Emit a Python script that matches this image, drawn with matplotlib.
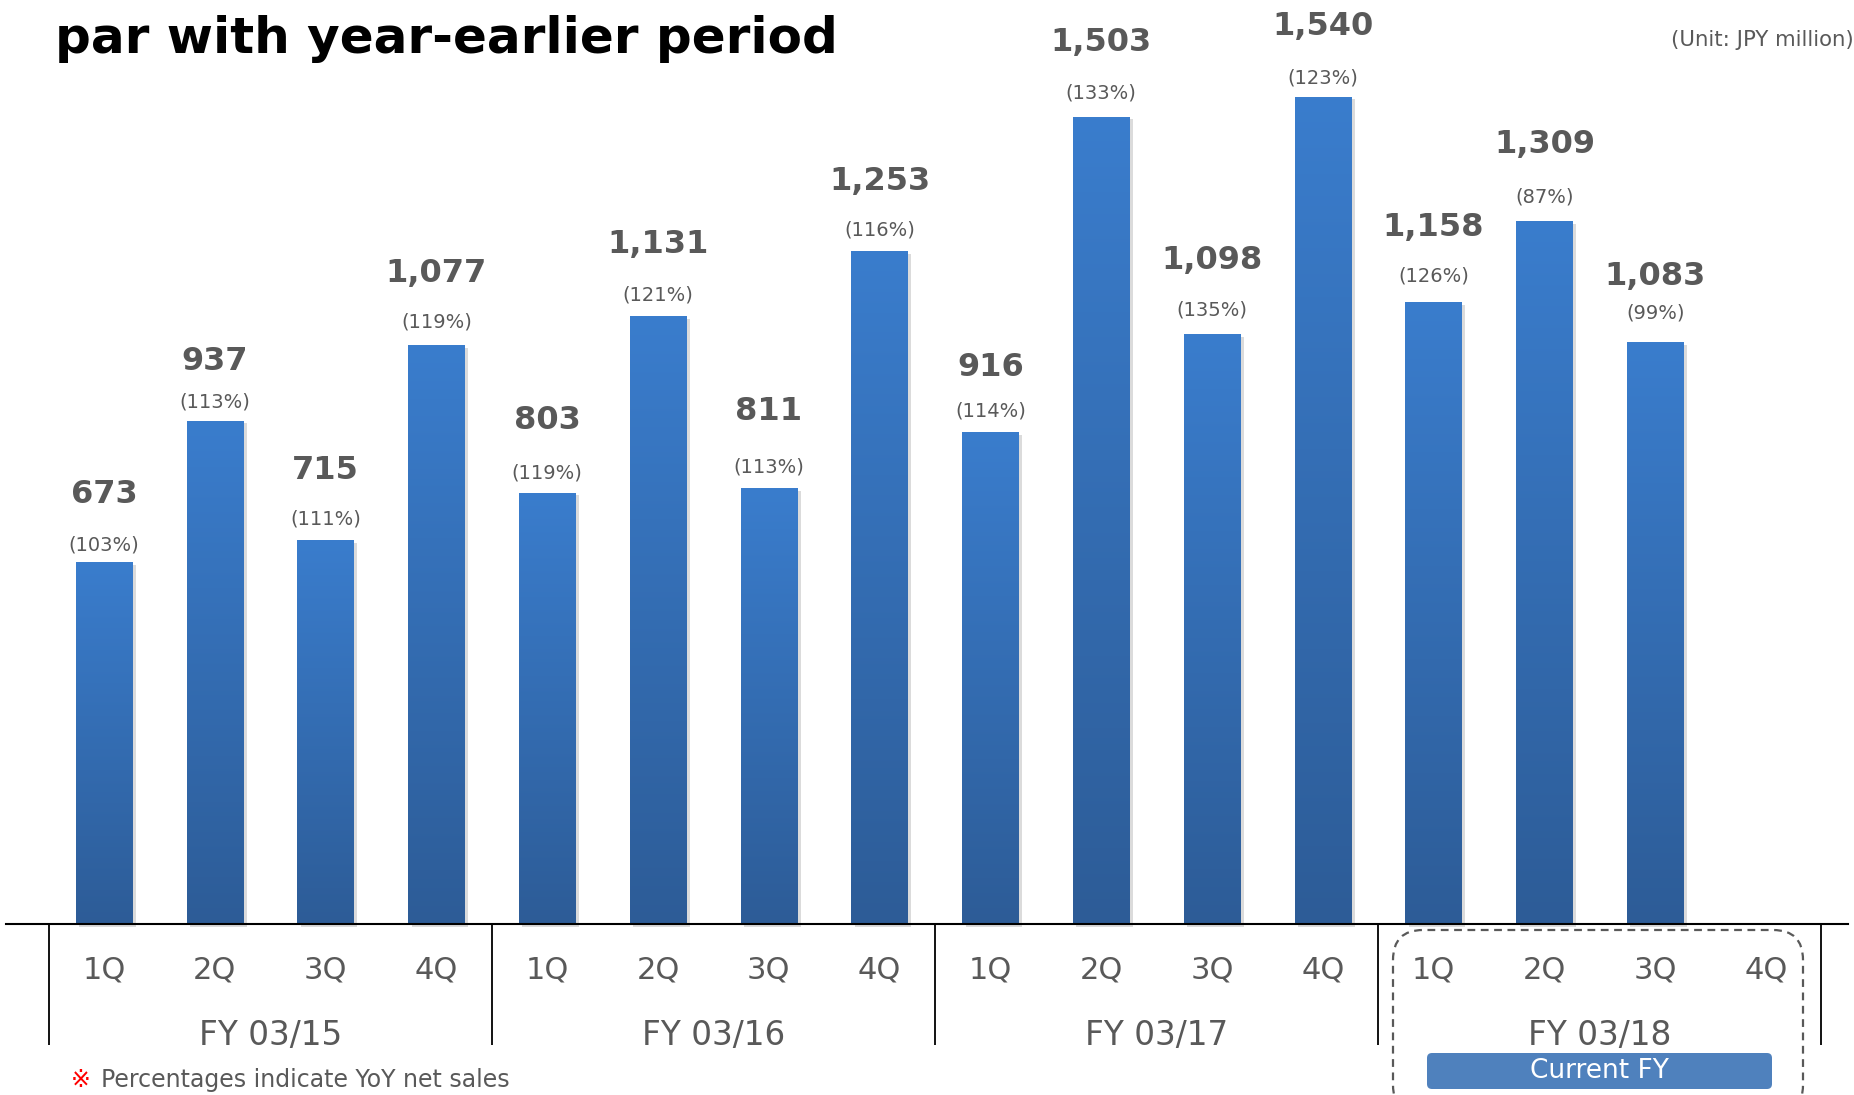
import numpy as np
import matplotlib
matplotlib.use("Agg")
import matplotlib.pyplot as plt
from matplotlib.patches import FancyBboxPatch
from matplotlib.transforms import IdentityTransform
from matplotlib.colors import LinearSegmentedColormap
import matplotlib.patheffects as pe

# quarterly net sales (JPY million) and YoY %
fiscal_years = ["FY 03/15", "FY 03/16", "FY 03/17", "FY 03/18"]
quarters = ["1Q", "2Q", "3Q", "4Q"]
net_sales = [673, 937, 715, 1077, 803, 1131, 811, 1253, 916, 1503, 1098, 1540, 1158, 1309, 1083]
yoy_pct = [103, 113, 111, 119, 119, 121, 113, 116, 114, 133, 135, 123, 126, 87, 99]

# label heights above each bar (px), placed by hand in the original slide
value_off_px = [68, 59, 69, 72, 72, 72, 77, 69, 64, 74, 74, 70, 74, 76, 66]
pct_off_px = [17.5, 19, 21, 23.5, 20, 21, 21, 21, 21, 23.5, 24.5, 19, 26, 23.5, 29]

W, H = 1854, 1095
PX = 0.72  # points per pixel at dpi 100
GRAY = "#595959"

fig = plt.figure(figsize=(W / 100, H / 100), dpi=100)
ax = fig.add_axes([0, 0, 1, 1])
ax.axis("off")

x = np.arange(len(net_sales))
shadow = [pe.SimplePatchShadow(offset=(2.5, -2), shadow_rgbFace="#999999", alpha=0.35),
          pe.Normal()]
bars = ax.bar(x, net_sales, width=0.51, color="#3572BC", zorder=2, path_effects=shadow)

# vertical gradient on each bar
grad = np.linspace(0, 1, 256).reshape(-1, 1)
cmap = LinearSegmentedColormap.from_list("bar", ["#2D5C97", "#3A7DCD"])
for b in bars:
    x0, w, h = b.get_x(), b.get_width(), b.get_height()
    im = ax.imshow(grad, cmap=cmap, origin="lower", aspect="auto",
                   extent=(x0, x0 + w, 0, h), zorder=3)
    im.set_clip_path(b)

ax.set_xlim(-0.9386, 15.794)
ax.set_ylim(-318.3, 1720)

for xi, v, p, vo, po in zip(x, net_sales, yoy_pct, value_off_px, pct_off_px):
    ax.annotate(f"{v:,}", (xi, v), xytext=(0, vo * PX), textcoords="offset points",
                ha="center", va="center", fontsize=23, fontweight="bold", color=GRAY)
    ax.annotate(f"({p}%)", (xi, v), xytext=(0, po * PX), textcoords="offset points",
                ha="center", va="center", fontsize=14, color=GRAY)

# baseline and group separators
ax.axhline(0, xmin=6 / W, xmax=1848 / W, color="black", lw=1.5, zorder=4)
n_groups = len(fiscal_years)
for s in np.arange(n_groups + 1) * 4 - 0.5:
    ax.plot([s, s], [0, -225], color="black", lw=1.3, solid_capstyle="butt")

for g, fy in enumerate(fiscal_years):
    for q, ql in enumerate(quarters):
        ax.annotate(ql, (g * 4 + q, 0), xytext=(0, -33), textcoords="offset points",
                    ha="center", va="center", fontsize=22, color=GRAY)
    ax.annotate(fy, (g * 4 + 1.5, 0), xytext=(0, -80), textcoords="offset points",
                ha="center", va="center", fontsize=23.5, color=GRAY)

# current FY highlight
box = FancyBboxPatch((1393, -20), 410, 185, boxstyle="round,pad=0,rounding_size=30",
                     transform=IdentityTransform(), fill=False, ec=GRAY, lw=1.6,
                     ls=(0, (3.5, 2.5)))
fig.add_artist(box)
tag = FancyBboxPatch((1427, 6), 345, 36, boxstyle="round,pad=0,rounding_size=5",
                     transform=IdentityTransform(), fc="#4F81BD", ec="none")
fig.add_artist(tag)
fig.text(1599.5 / W, 24 / H, "Current FY", ha="center", va="center",
         fontsize=19, color="white")

fig.text(55 / W, 1 - 53 / H, "par with year-earlier period", ha="left",
         va="baseline", fontsize=36, fontweight="bold", color="black")
fig.text(1671 / W, 1 - 40 / H, "(Unit: JPY million)", ha="left", va="center",
         fontsize=15.3, color=GRAY)
fig.text(71 / W, 15 / H, "※", ha="left", va="center", fontsize=17,
         color="red", family=["DejaVu Sans", "Noto Sans CJK JP"])
fig.text(101 / W, 15 / H, "Percentages indicate YoY net sales", ha="left",
         va="center", fontsize=17, color=GRAY)

fig.savefig("out.png", dpi=100)
